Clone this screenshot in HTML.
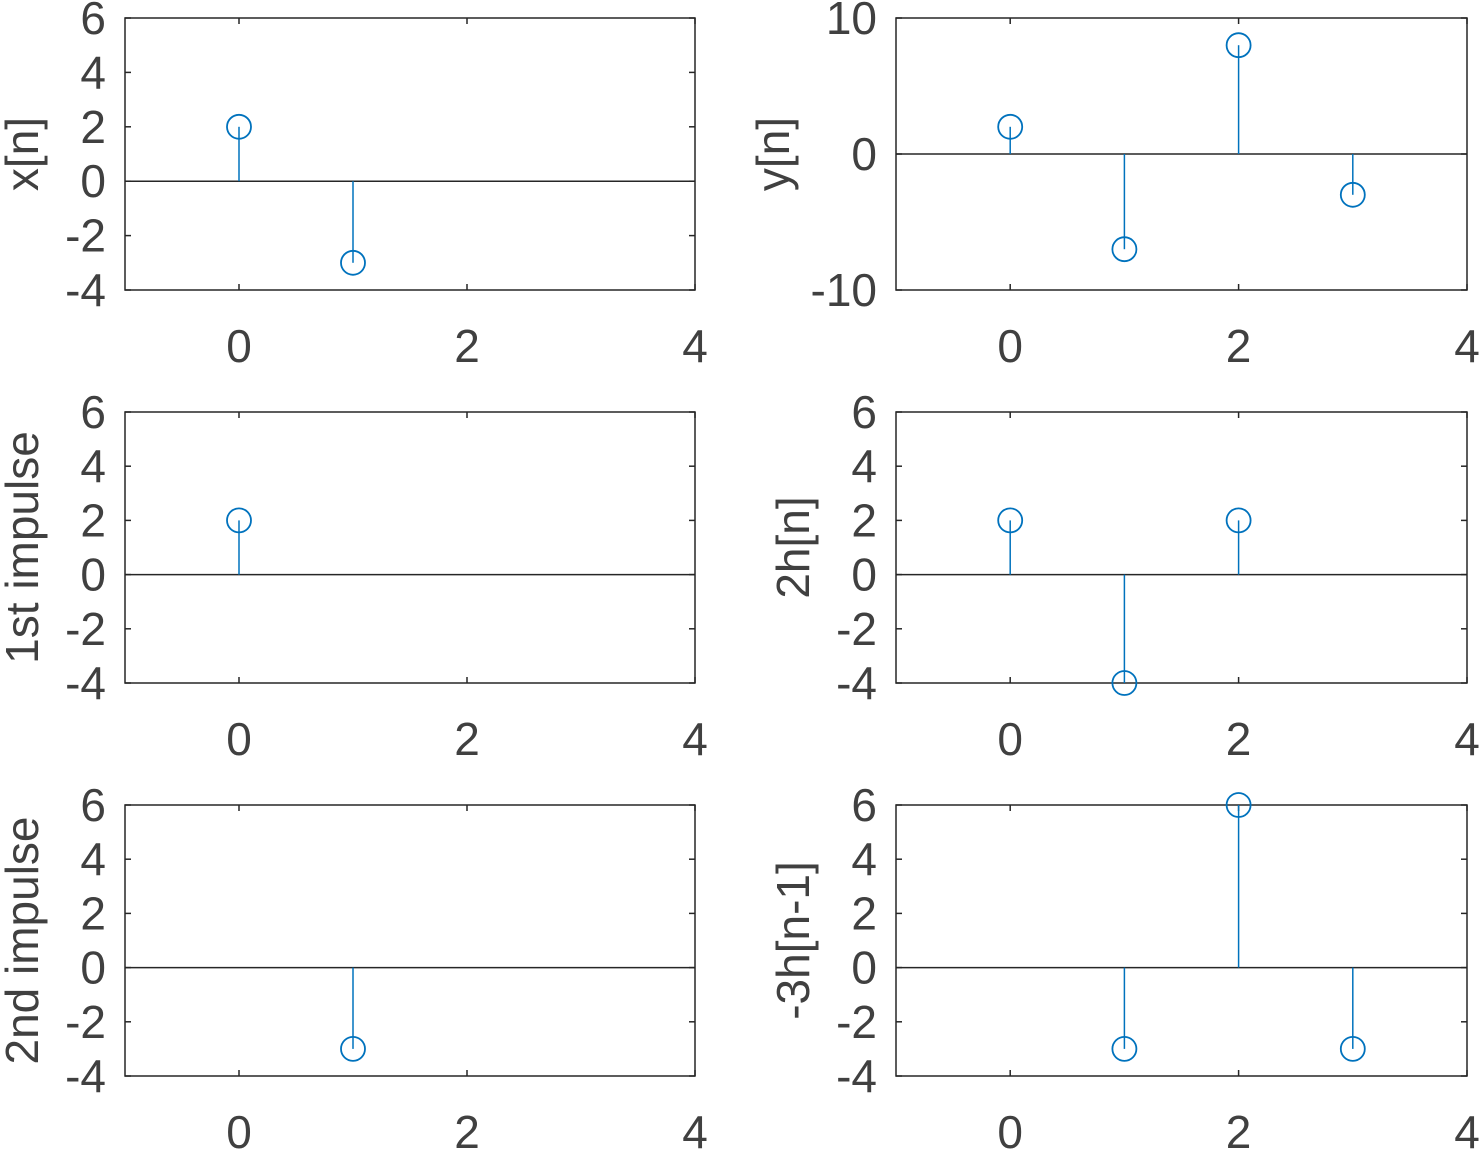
<!DOCTYPE html>
<html><head><meta charset="utf-8">
<style>
body{margin:0;background:#fff;}
svg text{font-family:"Liberation Sans",sans-serif;fill:#404040;}
</style></head>
<body>
<svg id="fig" width="1479" height="1150" xmlns="http://www.w3.org/2000/svg"></svg>
<script>
// data
const xNames = ["x[n]","y[n]","1st impulse","2h[n]","2nd impulse","-3h[n-1]"];
const nX = [0,1];
const vX = [2,-3];
const nY = [0,1,2,3];
const vY = [2,-7,8,-3];
const n1 = [0];
const v1 = [2];
const n2h = [0,1,2];
const v2h = [2,-4,2];
const n2 = [1];
const v2 = [-3];
const n3h = [1,2,3];
const v3h = [-3,6,-3];
const xTicks = [0,2,4];
const yTicksA = [-4,-2,0,2,4,6];
const yTicksB = [-10,0,10];

const svg=document.getElementById('fig');
const NS="http://www.w3.org/2000/svg";
function mk(tag,attrs,parent){const e=document.createElementNS(NS,tag);for(const k in attrs)e.setAttribute(k,attrs[k]);(parent||svg).appendChild(e);return e;}

const FS=46;
const cols=[{l:125,r:695},{l:896,r:1467}];
const rows=[{t:18,b:290},{t:412,b:683},{t:805,b:1076}];
const panels=[
 {c:0,r:0,n:nX,v:vX,yt:yTicksA,ymin:-4,ymax:6,lab:xNames[0],lx:6},
 {c:1,r:0,n:nY,v:vY,yt:yTicksB,ymin:-10,ymax:10,lab:xNames[1],lx:757},
 {c:0,r:1,n:n1,v:v1,yt:yTicksA,ymin:-4,ymax:6,lab:xNames[2],lx:6},
 {c:1,r:1,n:n2h,v:v2h,yt:yTicksA,ymin:-4,ymax:6,lab:xNames[3],lx:777},
 {c:0,r:2,n:n2,v:v2,yt:yTicksA,ymin:-4,ymax:6,lab:xNames[4],lx:6},
 {c:1,r:2,n:n3h,v:v3h,yt:yTicksA,ymin:-4,ymax:6,lab:xNames[5],lx:777},
];
panels.forEach((p,i)=>{
 const L=cols[p.c].l,R=cols[p.c].r,T=rows[p.r].t,B=rows[p.r].b;
 const g=mk('g',{});
 
 
 const sx=x=>L+(x+1)/5*(R-L);
 const sy=y=>B-(y-p.ymin)/(p.ymax-p.ymin)*(B-T);
 mk('rect',{x:L,y:T,width:R-L,height:B-T,fill:'none',stroke:'#262626','stroke-width':1.5},g);
 p.yt.forEach(t=>{
  const y=sy(t);
  mk('line',{x1:L,x2:L+6,y1:y,y2:y,stroke:'#262626','stroke-width':1.5},g);
  mk('line',{x1:R,x2:R-6,y1:y,y2:y,stroke:'#262626','stroke-width':1.5},g);
  const tx=mk('text',{x:L-19,y:y+16,'font-size':FS,'text-anchor':'end'},g);
  tx.textContent=t;
  
  
 });
 xTicks.forEach(t=>{
  const x=sx(t);
  mk('line',{x1:x,x2:x,y1:B,y2:B-6,stroke:'#262626','stroke-width':1.5},g);
  mk('line',{x1:x,x2:x,y1:T,y2:T+6,stroke:'#262626','stroke-width':1.5},g);
  const tx=mk('text',{x:x,y:B+72,'font-size':FS,'text-anchor':'middle'},g);
  tx.textContent=t;
  
  
 });
 mk('line',{x1:L,x2:R,y1:sy(0),y2:sy(0),stroke:'#262626','stroke-width':1.5},g);
 p.n.forEach((n,k)=>{
  const x=sx(n),y=sy(p.v[k]);
  const ln=mk('line',{x1:x,x2:x,y1:sy(0),y2:y,stroke:'#0072BD','stroke-width':1.5},g);
  
  
  const c=mk('circle',{cx:x,cy:y,r:12,fill:'none',stroke:'#0072BD','stroke-width':1.8},g);
  
  
 });
 const cy=(T+B)/2;
 const yl=mk('text',{x:p.lx+32,y:cy,'font-size':FS,'text-anchor':'middle',transform:`rotate(-90 ${p.lx+32} ${cy})`},g);
 yl.textContent=p.lab;
 
 
});
</script>
</body></html>
